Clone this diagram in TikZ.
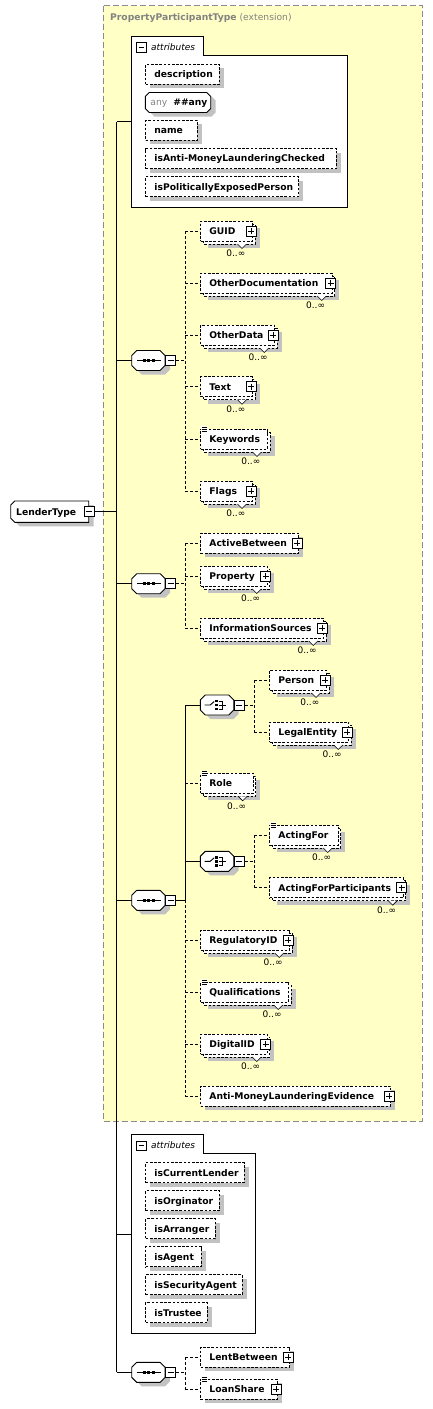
\documentclass[tikz,border=0pt]{standalone}
\usepackage{fontspec}
\setmainfont{DejaVu Sans}
\definecolor{ybg}{HTML}{FFFFC6}
\definecolor{ybd}{HTML}{8A8A8A}
\definecolor{shd}{HTML}{C2C2C2}
\definecolor{tgray}{HTML}{828282}
\tikzset{
  ln/.style={line width=0.9pt},
  dln/.style={line width=0.9pt, dash pattern=on 3pt off 2pt},
  edash/.style={line width=0.8pt, dash pattern=on 2.6pt off 1.6pt},
  elem/.style={edash, draw, fill=white, minimum height=20pt, inner xsep=8.7pt, inner ysep=0pt, anchor=west, font=\fontsize{9.2}{11}\selectfont\bfseries, text height=7.7pt, text depth=1pt},
  minusb/.style={draw, fill=white, line width=0.7pt, minimum size=10pt, inner sep=0pt, path picture={\draw[line width=0.7pt] ([xshift=2pt]path picture bounding box.west) -- ([xshift=-2pt]path picture bounding box.east);}},
  plusb/.style={draw, fill=white, line width=0.7pt, minimum size=10pt, inner sep=0pt, path picture={\draw[line width=0.7pt] ([xshift=2pt]path picture bounding box.west) -- ([xshift=-2pt]path picture bounding box.east) ([yshift=-2pt]path picture bounding box.north) -- ([yshift=2pt]path picture bounding box.south);}},
  mult/.style={font=\fontsize{9}{11}\selectfont, inner sep=0pt, anchor=east},
  lbl/.style={inner sep=0pt, anchor=west},
}
\newcommand\octxy[6]{\path[#6] ({#1+#5},#2) -- ({#3-#5},#2) -- (#3,{#2+#5}) -- (#3,{#4-#5}) -- ({#3-#5},#4) -- ({#1+#5},#4) -- (#1,{#4-#5}) -- (#1,{#2+#5}) -- cycle;}
\newcommand\El[8]{%
  \ifnum#6=1
    \fill[shd] ({#2+7.5},{#3-3}) rectangle ({#2+#4+7.5},{#3+17});
    \draw[edash,fill=white] ({#2+3},{#3-7}) rectangle ({#2+#4+3},{#3+13});
  \else
    \fill[shd] ({#2+5},{#3-6}) rectangle ({#2+#4+5},{#3+14});
  \fi
  \node[elem,minimum width=#4pt] (#1) at (#2,#3) {\makebox[\dimexpr#4pt-17.4pt\relax][l]{#5}};
  \ifnum#7=1 \node[plusb] (#1p) at ({#2+#4-1},#3) {};\fi
  \ifnum#8=1
    \fill[white] ({#2+0.8},{#3-12.6}) rectangle ({#2+6.8},{#3-7.4});
    \draw[line width=0.4pt] ({#2+1.2},{#3-12}) -- ++(5,0) ({#2+1.2},{#3-10}) -- ++(5,0) ({#2+1.2},{#3-8}) -- ++(5,0);
  \fi
  \ifnum#6=1
    \draw[line width=0.6pt,fill=white] ({#2+#4-14.5},{#3+13}) -- ({#2+#4-10},{#3+17.5}) -- ({#2+#4-5.5},{#3+13});
    \node[mult] (#1m) at ({#2+#4-6.5},{#3+22.5}) {0..∞};
  \fi}
\newcommand\CompBase[3]{%
  \octxy{#2+5}{#3-6}{#2+38.4}{#3+14}{5}{fill=shd}
  \octxy{#2}{#3-10}{#2+33.4}{#3+10}{5}{draw,ln,fill=white}
  \node[inner sep=0pt, minimum width=33.4pt, minimum height=20pt, anchor=west] (#1) at (#2,#3) {};
  \node[minusb] (#1m) at ({#2+39},#3) {};}
\newcommand\Seq[3]{\CompBase{#1}{#2}{#3}
  \draw[ln] ([xshift=5pt]#1.west) -- ([xshift=-4.5pt]#1.east);
  \foreach \dx in {-4.5,0,4.5}{\fill ([xshift=\dx pt-1.6pt,yshift=-1.6pt]#1.center) rectangle ([xshift=\dx pt+1.6pt,yshift=1.6pt]#1.center);}}
\newcommand\Cho[3]{\CompBase{#1}{#2}{#3}
  \draw[ln] ([xshift=-12.5pt]#1.center) -- ([xshift=-7pt]#1.center) -- ([xshift=-3pt,yshift=3.5pt]#1.center);
  \foreach \dy in {-4,0,4}{\fill ([xshift=-1.8pt,yshift=\dy pt-1.3pt]#1.center) rectangle ([xshift=0.8pt,yshift=\dy pt+1.3pt]#1.center);}
  \draw[line width=0.7pt] ([xshift=1.5pt,yshift=4pt]#1.center) -- ([xshift=5pt,yshift=4pt]#1.center) -- ([xshift=5pt,yshift=-4pt]#1.center) -- ([xshift=1.5pt,yshift=-4pt]#1.center);
  \draw[line width=0.7pt] ([xshift=1.5pt]#1.center) -- ([xshift=9pt]#1.center);}
\begin{document}
\begin{tikzpicture}[x=1pt,y=-1pt]
\useasboundingbox (0,0) rectangle (433,1409);
% extension container
\draw[fill=ybg, draw=ybd, line width=0.9pt, dash pattern=on 6pt off 3pt] (103.3,5.7) rectangle (422.3,1121);
\node[lbl, font=\fontsize{9.2}{11}\selectfont, text=tgray] (title) at (110,18) {\textbf{PropertyParticipantType} (extension)};

% attributes 1
\draw[ln, fill=white] (131.7,207.3) -- (131.7,36) -- (203.3,36) -- (203.3,55) -- (347.3,55) -- (347.3,207.3) -- cycle;
\node[inner sep=0pt, minimum width=215.6pt, minimum height=171.3pt, anchor=north west] (att1) at (131.7,36) {};
\node[minusb, minimum size=9.3pt] (att1m) at (141.3,47.2) {};
\node[lbl, font=\fontsize{9}{11}\selectfont\itshape] (att1t) at (151,47) {attributes};
\El{description}{145.3}{74.3}{73.7}{description}{0}{0}{0}
\octxy{150.3}{96.5}{215.7}{116.5}{4}{fill=shd}
\octxy{145.3}{92.5}{210.7}{112.5}{4}{draw,ln,fill=white}
\node[elem, draw=none, fill=none, inner xsep=4.7pt, minimum width=65.4pt] (any) at (145.3,102.5) {\makebox[56pt][l]{{\mdseries\color{tgray}any}\hspace{6pt}\#\#any}};
\El{nm}{145.3}{130.3}{51.4}{name}{0}{0}{0}
\El{isaml}{145.3}{158.5}{190.7}{isAnti-MoneyLaunderingChecked}{0}{0}{0}
\El{ispep}{145.3}{186.7}{153}{isPoliticallyExposedPerson}{0}{0}{0}

% LenderType
\path[fill=shd] (19.7,505) -- (93.7,505) -- (93.7,526.3) -- (19.7,526.3) -- (15.7,522.3) -- (15.7,509) -- cycle;
\draw[ln, fill=white] (14.7,501) -- (88.7,501) -- (88.7,522.3) -- (14.7,522.3) -- (10.7,518.3) -- (10.7,505) -- cycle;
\node[lbl, minimum width=78pt, minimum height=21.3pt, inner xsep=5.3pt, inner ysep=0pt, font=\fontsize{9.2}{11}\selectfont\bfseries, text height=7.7pt, text depth=1pt] (lt) at (10.7,511.7) {\makebox[67.4pt][l]{LenderType}};
\node[minusb] (ltm) at (88.9,511.7) {};

% sequence 1
\Seq{s1}{131.7}{360.5}
\El{guid}{200.3}{231}{51.7}{GUID}{1}{1}{0}
\El{otherdoc}{200.3}{283}{131.4}{OtherDocumentation}{1}{1}{0}
\El{otherdata}{200.3}{335}{74}{OtherData}{1}{1}{0}
\El{txt}{200.3}{386.7}{51.7}{Text}{1}{1}{0}
\El{keywords}{200.3}{439}{66.7}{Keywords}{1}{0}{1}
\El{flags}{200.3}{491}{51.7}{Flags}{1}{1}{0}

% sequence 2
\Seq{s2}{131.7}{583.7}
\El{activebetween}{200.3}{543.3}{98}{ActiveBetween}{0}{1}{0}
\El{property}{200.3}{576}{66.4}{Property}{1}{1}{0}
\El{infosources}{200.3}{628}{123}{InformationSources}{1}{1}{0}

% sequence 3
\Seq{s3}{131.7}{900.3}
\Cho{c1}{200.3}{705}
\El{person}{269.3}{680}{56.7}{Person}{1}{1}{0}
\El{legalentity}{269.3}{732}{79}{LegalEntity}{1}{1}{0}
\El{role}{200.3}{783.3}{52.4}{Role}{1}{0}{1}
\Cho{c2}{200.3}{861.3}
\El{actingfor}{269.3}{835}{68.4}{ActingFor}{1}{0}{1}
\El{actingforp}{269.3}{887.7}{133.4}{ActingForParticipants}{1}{1}{0}
\El{regid}{200.3}{940}{89}{RegulatoryID}{1}{1}{0}
\El{quals}{200.3}{992}{88}{Qualifications}{1}{0}{1}
\El{digitalid}{200.3}{1044}{66.4}{DigitalID}{1}{1}{0}
\El{amle}{200.3}{1096}{190}{Anti-MoneyLaunderingEvidence}{0}{1}{0}

% attributes 2
\draw[ln, fill=white] (131.7,1333.3) -- (131.7,1134.3) -- (203.3,1134.3) -- (203.3,1153.3) -- (255.3,1153.3) -- (255.3,1333.3) -- cycle;
\node[inner sep=0pt, minimum width=123.6pt, minimum height=199pt, anchor=north west] (att2) at (131.7,1134.3) {};
\node[minusb, minimum size=9.3pt] (att2m) at (141.3,1145.5) {};
\node[lbl, font=\fontsize{9}{11}\selectfont\itshape] (att2t) at (151,1145.3) {attributes};
\El{iscl}{145.3}{1172.7}{98.4}{isCurrentLender}{0}{0}{0}
\El{isor}{145.3}{1200.7}{73.7}{isOrginator}{0}{0}{0}
\El{isar}{145.3}{1228.7}{69.7}{isArranger}{0}{0}{0}
\El{isag}{145.3}{1256.7}{55.7}{isAgent}{0}{0}{0}
\El{issa}{145.3}{1284.7}{96.4}{isSecurityAgent}{0}{0}{0}
\El{istr}{145.3}{1312.7}{61.4}{isTrustee}{0}{0}{0}

% sequence 4
\Seq{s4}{131.7}{1372.3}
\El{lentbetween}{200.3}{1357}{89}{LentBetween}{0}{1}{0}
\El{loanshare}{200.3}{1389.3}{76.7}{LoanShare}{0}{1}{1}

% trunk
\coordinate (trunk) at (116.5,511.7);
\draw[ln] (ltm.east) -- (trunk);
\draw[ln] (trunk |- att1.west) -- (trunk |- s4.west);
\foreach \n in {att1,s1,s2,s3,att2,s4} \draw[ln] (trunk |- \n.west) -- (\n.west);

% sequence 1 connectors
\coordinate (j1) at (185.3,360.5);
\draw[dln] (s1m.east) -- (j1);
\draw[dln] (j1 |- guid.west) -- (j1 |- flags.west);
\foreach \n in {guid,otherdoc,otherdata,txt,keywords,flags} \draw[dln] (j1 |- \n.west) -- (\n.west);

% sequence 2 connectors
\coordinate (j2) at (185.3,583.7);
\draw[dln] (s2m.east) -- (j2);
\draw[dln] (j2 |- activebetween.west) -- (j2 |- infosources.west);
\foreach \n in {activebetween,property,infosources} \draw[dln] (j2 |- \n.west) -- (\n.west);

% sequence 3 connectors
\coordinate (j3) at (185.3,900.3);
\draw[ln] (s3m.east) -- (j3);
\draw[ln] (j3 |- c1.west) -- (j3);
\draw[dln] (j3) -- (j3 |- amle.west);
\foreach \n in {c1,c2} \draw[ln] (j3 |- \n.west) -- (\n.west);
\foreach \n in {role,regid,quals,digitalid,amle} \draw[dln] (j3 |- \n.west) -- (\n.west);

% choice 1
\coordinate (k1) at (254.3,705);
\draw[dln] (c1m.east) -- (k1);
\draw[dln] (k1 |- person.west) -- (k1 |- legalentity.west);
\foreach \n in {person,legalentity} \draw[dln] (k1 |- \n.west) -- (\n.west);

% choice 2
\coordinate (k2) at (254.3,861.3);
\draw[dln] (c2m.east) -- (k2);
\draw[dln] (k2 |- actingfor.west) -- (k2 |- actingforp.west);
\foreach \n in {actingfor,actingforp} \draw[dln] (k2 |- \n.west) -- (\n.west);

% sequence 4 connectors
\coordinate (j4) at (185.3,1372.3);
\draw[dln] (s4m.east) -- (j4);
\draw[dln] (j4 |- lentbetween.west) -- (j4 |- loanshare.west);
\foreach \n in {lentbetween,loanshare} \draw[dln] (j4 |- \n.west) -- (\n.west);
\end{tikzpicture}
\end{document}
